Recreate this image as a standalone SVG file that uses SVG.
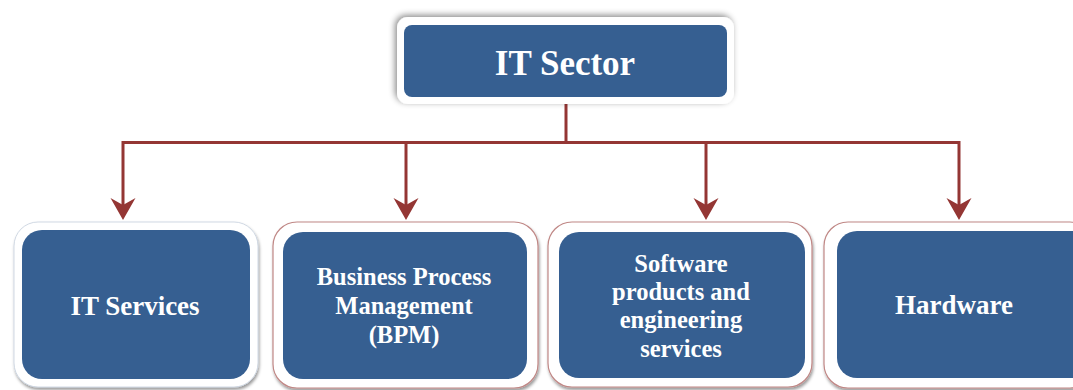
<svg xmlns="http://www.w3.org/2000/svg" width="1073" height="390" viewBox="0 0 1073 390">
<style>
.outer{fill:#ffffff;}
.red{stroke:#c08886;stroke-width:1.2;}
.inner{fill:#365F91;}
.lbl{font-family:"Liberation Serif","Times New Roman",serif;font-weight:bold;fill:#ffffff;text-anchor:middle;}
.conn{fill:none;stroke:#943634;stroke-width:3;stroke-linejoin:miter;}
</style>
<defs>
<filter id="shTop" x="-10%" y="-30%" width="120%" height="160%">
<feDropShadow dx="-2" dy="-2" stdDeviation="3" flood-color="#000000" flood-opacity="0.45"/>
</filter>
<filter id="shBot" x="-10%" y="-10%" width="120%" height="125%">
<feDropShadow dx="1" dy="2.5" stdDeviation="1.8" flood-color="#000000" flood-opacity="0.4"/>
</filter>
<marker id="arr" markerUnits="userSpaceOnUse" markerWidth="30" markerHeight="30" refX="0" refY="0" orient="auto-start-reverse" overflow="visible">
<path d="M8,0 L-14,-12.5 L-7,0 L-14,12.5 Z" fill="#943634"/>
</marker>
</defs>
<rect width="1073" height="390" fill="#ffffff"/>

<g id="connectors">
<path class="conn" d="M566,97 V142.5"/>
<path class="conn" d="M123,212 V142.5 H959 V212" marker-start="url(#arr)" marker-end="url(#arr)"/>
<path class="conn" d="M406,142.5 V212" marker-end="url(#arr)"/>
<path class="conn" d="M706,142.5 V212" marker-end="url(#arr)"/>
</g>

<g id="it-sector">
<rect class="outer" x="397" y="17" width="337" height="87" rx="11" filter="url(#shTop)"/>
<rect class="inner" x="404" y="25" width="323" height="72" rx="8"/>
<text class="lbl" x="565" y="75" font-size="35">IT Sector</text>
</g>

<g id="it-services">
<rect class="outer" x="14" y="222" width="244" height="165" rx="24" filter="url(#shBot)" stroke="#c5cfdd" stroke-width="0.8"/>
<rect class="inner" x="22" y="230" width="228" height="149" rx="20"/>
<text class="lbl" x="135" y="315" font-size="27">IT Services</text>
</g>

<g id="bpm">
<rect class="outer red" x="273" y="222" width="265" height="166" rx="24" filter="url(#shBot)"/>
<rect class="inner" x="283" y="232" width="244" height="147" rx="20"/>
<text class="lbl" font-size="24.5"><tspan x="404" y="285">Business Process</tspan><tspan x="404" y="314">Management</tspan><tspan x="404" y="343">(BPM)</tspan></text>
</g>

<g id="software">
<rect class="outer red" x="548" y="222" width="264" height="165" rx="24" filter="url(#shBot)"/>
<rect class="inner" x="559" y="232" width="246" height="146" rx="20"/>
<text class="lbl" font-size="24.5"><tspan x="681" y="272">Software</tspan><tspan x="681" y="300">products and</tspan><tspan x="681" y="328">engineering</tspan><tspan x="681" y="357">services</tspan></text>
</g>

<g id="hardware">
<rect class="outer red" x="824" y="222" width="270" height="166" rx="24" filter="url(#shBot)"/>
<rect class="inner" x="837" y="231" width="260" height="147" rx="20"/>
<text class="lbl" x="954" y="314" font-size="27">Hardware</text>
</g>
</svg>
